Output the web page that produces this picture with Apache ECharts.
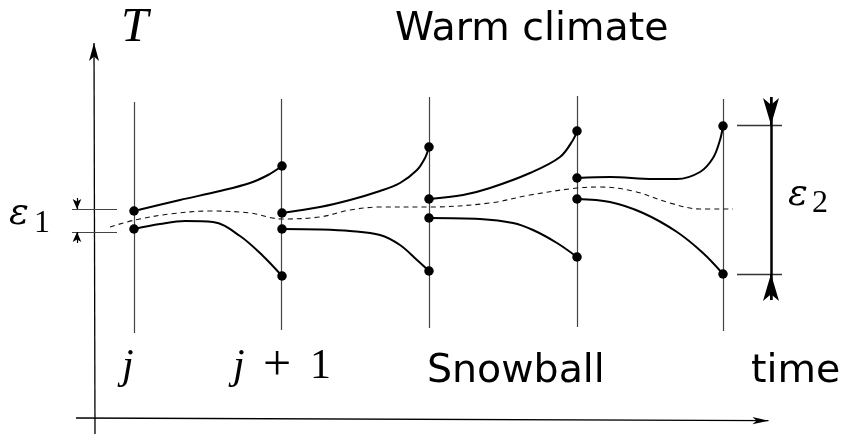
<!DOCTYPE html>
<html>
<head>
<meta charset="utf-8">
<script src="https://cdn.jsdelivr.net/npm/echarts@6/dist/echarts.min.js"></script>
<style>
html, body { margin: 0; padding: 0; background: #fff; }
#main { width: 843px; height: 434px; }
</style>
</head>
<body>
<div id="main"></div>
<script>
// time steps (vertical lines)
var colX = [134, 281, 429, 577, 723];
var colTop = [102, 99, 97, 96, 99];
var colBottom = [333, 330, 328, 327, 331];

// dots on the time steps
var dots = [
	[134, 211], [134, 229],
	[282, 166], [282, 213], [282, 229], [282, 276],
	[429, 147], [429, 199], [429, 218], [429, 271],
	[577, 131], [577, 178], [577, 199], [577, 257],
	[723, 126], [723, 274]
];

// trajectories between steps
var seg1Up = [[134, 211], [180, 200], [220, 191], [250, 183], [268, 175], [282, 166]];
var seg1Low = [[134, 229], [160, 224], [185, 221], [213, 222], [240, 236], [263, 256], [282, 276]];
var seg2Up = [[282, 213], [320, 207], [350, 200], [380, 191], [400, 183], [417, 170], [425, 158], [429, 147]];
var seg2Low = [[282, 229], [320, 229.5], [350, 231], [380, 235], [400, 245], [417, 260], [429, 271]];
var seg3Up = [[429, 199], [463, 195], [490, 188], [530, 173], [560, 157], [573, 140], [577, 131]];
var seg3Low = [[429, 218], [480, 219], [513, 223], [533, 230], [557, 243], [577, 257]];
var seg4Up = [[577, 178], [610, 177], [653, 179], [677, 179], [700, 172], [713, 158], [720, 140], [723, 126]];
var seg4Low = [[577, 199], [610, 202], [643, 213], [677, 232], [703, 253], [723, 274]];

// reference (dashed) trajectory
var dashed = [[110, 227], [135, 220], [170, 214], [210, 211], [250, 213], [282, 219], [320, 217], [350, 210],
	[380, 207], [429, 207], [490, 203], [530, 195], [577, 188], [600, 187], [633, 191], [670, 203], [700, 209], [733, 209]];

// axes (end = arrow tip)
var tAxis = [[95, 434], [94, 43]];
var timeAxis = [[76, 418], [768.5, 420.7]];

// epsilon brackets
var eps1Ticks = [[[72, 209], [117, 209]], [[72, 232], [117, 232]]];
var eps1Arrows = [[[77, 198], [77, 209]], [[77, 243], [77, 232]]];
var eps2Ticks = [[[737, 125], [782, 125]], [[737, 274], [782, 274]]];
var eps2Bar = [[771, 97], [771, 300]];
var eps2Arrows = [[[771, 97], [771, 125]], [[771, 300], [771, 274]]];

function linesSeries(list, color, width, endSize) {
	return {
		type: 'lines',
		coordinateSystem: 'cartesian2d',
		data: list.map(function(c) { return { coords: c }; }),
		symbol: endSize ? ['none', 'arrow'] : 'none',
		symbolSize: endSize ? [1, endSize] : 0,
		lineStyle: { color: color, width: width, opacity: 1, curveness: 0 },
		itemStyle: { color: color },
		silent: true
	};
}

var myChart = echarts.init(document.getElementById('main'), null, { renderer: 'canvas' });

var series = [];
series.push(linesSeries(colX.map(function(x, i) {
	return [[x, colTop[i]], [x, colBottom[i]]];
}), '#444', 1.2));

[seg1Up, seg1Low, seg2Up, seg2Low, seg3Up, seg3Low, seg4Up, seg4Low].forEach(function(s) {
	series.push({
		type: 'line', data: s, smooth: 0.35, showSymbol: false, silent: true,
		lineStyle: { color: '#000', width: 2 }
	});
});

series.push({
	type: 'line', data: dashed, smooth: 0.35, showSymbol: false, silent: true,
	lineStyle: { color: '#111', width: 1.1, type: [5, 4] }
});

series.push({
	type: 'scatter', data: dots, symbolSize: 9.5, silent: true,
	itemStyle: { color: '#000', opacity: 1 }
});

series.push(linesSeries([tAxis], '#000', 1.3, [7.5, 18]));
series.push(linesSeries([timeAxis], '#000', 1.3, [5.5, 16]));
series.push(linesSeries(eps1Ticks, '#444', 1.2));
series.push(linesSeries(eps1Arrows, '#000', 1.2, [6.5, 10]));
series.push(linesSeries(eps2Ticks, '#333', 1.3));
series.push(linesSeries([eps2Bar], '#000', 2.5));
series.push(linesSeries(eps2Arrows, '#000', 2, [12, 27]));

function label(text, x, y, size, family, style) {
	return {
		type: 'text', silent: true,
		style: {
			text: text, x: x, y: y,
			fontSize: size, fontFamily: family, fontStyle: style || 'normal',
			fill: '#000', align: 'left', verticalAlign: 'middle'
		}
	};
}

var serif = '"Liberation Serif", "DejaVu Serif", serif';
var greek = '"DejaVu Serif", serif';
var sans = '"DejaVu Sans", sans-serif';

var option = {
	animation: false,
	backgroundColor: '#fff',
	grid: { left: 0, right: 0, top: 0, bottom: 0 },
	xAxis: { type: 'value', min: 0, max: 843, show: false },
	yAxis: { type: 'value', min: 0, max: 434, inverse: true, show: false },
	series: series,
	graphic: [
		label('T', 121, 28, 49, serif, 'italic'),
		label('Warm climate', 395, 30, 39.5, sans),
		label('Snowball', 427, 372, 39.5, sans),
		label('time', 751, 372, 39.5, sans),
		label('j', 122, 367, 42, serif, 'italic'),
		label('j', 233, 367, 42, serif, 'italic'),
		label('+', 263, 367, 50, serif),
		label('1', 310, 367, 42, serif),
		label('\u03b5', 9, 214, 37, greek, 'italic'),
		label('1', 34, 224, 32, serif),
		label('\u03b5', 788, 195, 37, greek, 'italic'),
		label('2', 812, 204, 32, serif)
	]
};

myChart.setOption(option);
</script>
</body>
</html>
